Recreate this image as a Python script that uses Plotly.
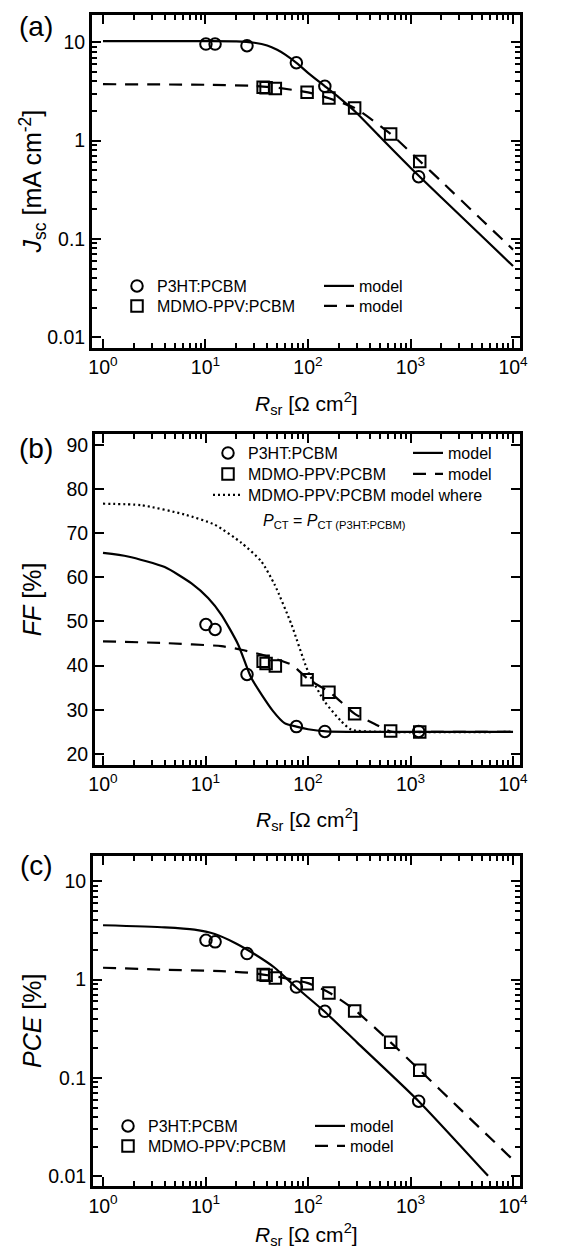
import plotly.graph_objects as go

# ---------------- data ----------------
x_p3ht = [10.1, 12.4, 25.4, 77, 146, 1200]
x_mdmo = [36.5, 39, 48, 98, 160, 285, 640, 1230]

jsc_p3ht = [9.6, 9.6, 9.25, 6.2, 3.57, 0.43]
jsc_mdmo = [3.5, 3.45, 3.4, 3.1, 2.71, 2.15, 1.17, 0.615]
jsc_model_p3ht_x = [1, 3, 10, 20, 30, 40, 50, 60, 80, 100, 150, 200, 300, 500, 1000, 2000, 5000, 10000]
jsc_model_p3ht_y = [10.3, 10.3, 10.3, 10.25, 9.9, 9.3, 8.4, 7.5, 6.0, 4.9, 3.5, 2.75, 1.9, 1.1, 0.53, 0.264, 0.106, 0.053]
jsc_model_mdmo_x = [1, 10, 30, 50, 100, 160, 285, 640, 1230, 2000, 5000, 10000]
jsc_model_mdmo_y = [3.75, 3.7, 3.6, 3.45, 3.1, 2.7, 2.15, 1.17, 0.62, 0.385, 0.155, 0.078]

ff_p3ht = [49.3, 48.2, 38.0, 26.2, 25.1, 25.1]
ff_mdmo = [41.0, 40.5, 39.9, 36.8, 34.0, 29.1, 25.2, 25.0]
ff_model_p3ht_x = [1, 1.75, 4, 7.3, 10.6, 14.3, 20.8, 28, 45.6, 59, 77, 100, 150, 300, 1000, 10000]
ff_model_p3ht_y = [65.5, 64.7, 62.3, 58.6, 55.3, 51.5, 44.8, 37.2, 29.7, 27.0, 26.2, 25.6, 25.1, 25.0, 25.0, 25.0]
ff_model_mdmo_x = [1, 4, 14.3, 22.4, 35, 69, 102, 163, 286, 448, 640, 1230, 10000]
ff_model_mdmo_y = [45.5, 45.1, 44.4, 43.6, 42.5, 40.2, 36.8, 34.0, 29.1, 26.8, 25.1, 25.0, 25.0]
ff_model_pct_x = [1, 2.37, 6.26, 12.3, 22.4, 35, 47.3, 69, 100, 145, 211, 265, 520, 10000]
ff_model_pct_y = [76.65, 76.3, 74.2, 71.9, 67.8, 63.6, 58.3, 49.3, 38.7, 31.9, 27.4, 25.5, 25.0, 25.0]

pce_p3ht = [2.51, 2.42, 1.84, 0.84, 0.476, 0.058]
pce_mdmo = [1.13, 1.11, 1.04, 0.91, 0.73, 0.48, 0.23, 0.12]
pce_model_p3ht_x = [1, 4, 7.8, 12.3, 19.4, 30.5, 47.3, 74.6, 144, 300, 1200, 5700]
pce_model_p3ht_y = [3.57, 3.4, 3.22, 2.91, 2.36, 1.80, 1.32, 0.855, 0.476, 0.23, 0.058, 0.0101]
pce_model_mdmo_x = [1, 4, 14.3, 28, 50, 100, 160, 286, 640, 1230, 3000, 9600]
pce_model_mdmo_y = [1.32, 1.26, 1.22, 1.17, 1.07, 0.92, 0.74, 0.49, 0.23, 0.12, 0.049, 0.0153]

x_tickvals = [1, 10, 100, 1000, 10000]
x_ticktext = ["10<sup>0</sup>", "10<sup>1</sup>", "10<sup>2</sup>", "10<sup>3</sup>", "10<sup>4</sup>"]
log_y_tickvals = [0.01, 0.1, 1, 10]
log_y_ticktext = ["0.01", "0.1", "1", "10"]

# ---------------- layout helpers ----------------
W, H = 565, 1249
FONT = "Liberation Sans, Arial, sans-serif"
BLACK = "black"


def px(x):
    return x / W


def py(y):
    return 1 - y / H


def minor_log(lo_dec, hi_dec):
    return [m * 10 ** d for d in range(lo_dec, hi_dec) for m in range(2, 10)]


fig = go.Figure()

marker_circle = dict(symbol="circle-open", size=11.5, color=BLACK, line=dict(width=2, color=BLACK))
marker_square = dict(symbol="square-open", size=11.5, color=BLACK, line=dict(width=2, color=BLACK))
solid = dict(color=BLACK, width=2.2, shape="spline", smoothing=0.6)
dashed = dict(color=BLACK, width=2.2, dash="13px,9px", shape="spline", smoothing=0.6)
dotted = dict(color=BLACK, width=2.2, dash="2px,3px", shape="spline", smoothing=0.6)

panels = [
    dict(xa="x", ya="y",
         circ=jsc_p3ht, sq=jsc_mdmo,
         lines=[(jsc_model_p3ht_x, jsc_model_p3ht_y, solid, "model"),
                (jsc_model_mdmo_x, jsc_model_mdmo_y, dashed, "model")]),
    dict(xa="x2", ya="y2",
         circ=ff_p3ht, sq=ff_mdmo,
         lines=[(ff_model_pct_x, ff_model_pct_y, dotted, "MDMO-PPV:PCBM model where"),
                (ff_model_p3ht_x, ff_model_p3ht_y, solid, "model"),
                (ff_model_mdmo_x, ff_model_mdmo_y, dashed, "model")]),
    dict(xa="x3", ya="y3",
         circ=pce_p3ht, sq=pce_mdmo,
         lines=[(pce_model_p3ht_x, pce_model_p3ht_y, solid, "model"),
                (pce_model_mdmo_x, pce_model_mdmo_y, dashed, "model")]),
]

# legend box positions (left px, centre px) -- circle, square, [dotted], solid, dashed
legend_pos = [
    [(109, 278), (109, 298), (311, 278), (311, 298)],
    [(200, 445), (200, 466), (200, 487), (400, 445), (400, 466)],
    [(100, 1118), (100, 1138), (302, 1118), (302, 1138)],
]

legend_layouts = {}
lg_index = 0


def next_legend(pos):
    global lg_index
    lg_index += 1
    name = "legend" if lg_index == 1 else "legend%d" % lg_index
    legend_layouts[name] = dict(
        x=px(pos[0]), y=py(pos[1]), xanchor="left", yanchor="middle",
        bgcolor="rgba(0,0,0,0)", borderwidth=0,
        font=dict(family=FONT, size=16, color=BLACK),
        itemclick=False, itemdoubleclick=False,
    )
    return name


for pi, p in enumerate(panels):
    pos = legend_pos[pi]
    line_pos = pos[2:]
    for (lx, ly, style, nm), lp in zip(p["lines"], line_pos):
        fig.add_trace(go.Scatter(x=lx, y=ly, mode="lines", line=style, name=nm,
                                 xaxis=p["xa"], yaxis=p["ya"], legend=next_legend(lp)))
    fig.add_trace(go.Scatter(x=x_p3ht, y=p["circ"], mode="markers", marker=marker_circle,
                             name="P3HT:PCBM", xaxis=p["xa"], yaxis=p["ya"],
                             legend=next_legend(pos[0])))
    fig.add_trace(go.Scatter(x=x_mdmo, y=p["sq"], mode="markers", marker=marker_square,
                             name="MDMO-PPV:PCBM", xaxis=p["xa"], yaxis=p["ya"],
                             legend=next_legend(pos[1])))

frames = [
    dict(left=84, right=512, top=7, bottom=340),
    dict(left=87, right=512, top=425.7, bottom=756.7),
    dict(left=85, right=512, top=847.7, bottom=1178.3),
]
x_ranges = [[-0.107, 4.068], [-0.078, 4.068], [-0.098, 4.068]]
y_ranges = [[-2.109, 1.278], [17.58, 92.49], [-2.102, 1.26]]
xtitle_offsets = [55, 55, 48]

common_axis = dict(
    showline=True, linecolor=BLACK, linewidth=2.8, mirror="ticks",
    ticks="inside", ticklen=9, tickwidth=2, tickcolor=BLACK,
    showgrid=False, zeroline=False, automargin=False,
    tickfont=dict(family=FONT, size=19.5, color=BLACK),
)

for i, fr in enumerate(frames):
    sfx = "" if i == 0 else str(i + 1)
    xa = dict(common_axis)
    xa.update(type="log", range=x_ranges[i],
              domain=[px(fr["left"]), px(fr["right"])],
              anchor="y" + sfx,
              tickmode="array", tickvals=x_tickvals, ticktext=x_ticktext,
              ticklabelstandoff=0,
              minor=dict(ticks="inside", ticklen=5, tickwidth=2, tickcolor=BLACK,
                         tickmode="array", tickvals=minor_log(0, 4), showgrid=False))
    fig.layout["xaxis" + sfx] = xa
    ya = dict(common_axis)
    ya.update(domain=[py(fr["bottom"]), py(fr["top"])], anchor="x" + sfx,
              range=y_ranges[i], ticklabelstandoff=0)
    if i == 1:
        ya.update(type="linear", tickmode="linear", tick0=0, dtick=10)
    else:
        ya.update(type="log", tickmode="array", tickvals=log_y_tickvals, ticktext=log_y_ticktext,
                  minor=dict(ticks="inside", ticklen=5, tickwidth=2, tickcolor=BLACK,
                             tickmode="array", tickvals=minor_log(-2, 2), showgrid=False))
    fig.layout["yaxis" + sfx] = ya

annotations = []
# panel labels
for lab, yy in [("(a)", 18), ("(b)", 440), ("(c)", 857)]:
    annotations.append(dict(text=lab, x=px(28), y=py(yy), xref="paper", yref="paper",
                            xanchor="center", yanchor="middle", showarrow=False,
                            font=dict(family=FONT, size=28, color=BLACK)))
# y titles
ytitles = ["<i>J</i><sub>sc</sub> [mA cm<sup>-2</sup>]", "<i>FF</i> [%]", "<i>PCE</i> [%]"]
for t, fr in zip(ytitles, frames):
    annotations.append(dict(text=t, x=px(24), y=py((fr["top"] + fr["bottom"]) / 2),
                            xref="paper", yref="paper", xanchor="center", yanchor="middle",
                            textangle=-90, showarrow=False,
                            font=dict(family=FONT, size=25, color=BLACK)))
# x titles
for fr, off in zip(frames, xtitle_offsets):
    annotations.append(dict(text="<i>R</i><sub>sr</sub> [\u03a9 cm<sup>2</sup>]",
                            x=px((fr["left"] + fr["right"]) / 2), y=py(fr["bottom"] + off),
                            xref="paper", yref="paper",
                            xanchor="center", yanchor="middle", showarrow=False,
                            font=dict(family=FONT, size=21, color=BLACK)))
# P_CT note
annotations.append(dict(text="<i>P</i><sub>CT</sub> = <i>P</i><sub>CT (P3HT:PCBM)</sub>",
                        x=px(253), y=py(513), xref="paper", yref="paper",
                        xanchor="left", yanchor="middle", showarrow=False,
                        font=dict(family=FONT, size=16, color=BLACK)))

fig.update_layout(
    width=W, height=H,
    margin=dict(l=0, r=0, t=0, b=0),
    paper_bgcolor="white", plot_bgcolor="white",
    font=dict(family=FONT, color=BLACK),
    showlegend=True,
    annotations=annotations,
    **legend_layouts,
)

fig.write_html("out.html")
